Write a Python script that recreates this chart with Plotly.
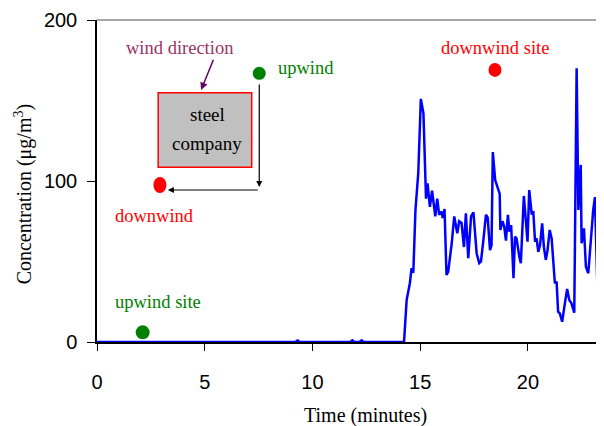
import plotly.graph_objects as go

# ---- data ----
time_min = [0, 9.2, 9.31, 9.42, 11.75, 11.85, 11.95, 12.18, 12.28, 12.38, 14.25,
            14.37, 14.52, 14.6, 14.68, 14.78, 14.91, 15.03, 15.15, 15.27, 15.34,
            15.45, 15.55, 15.6, 15.7, 15.79, 15.88, 16.0, 16.04, 16.13, 16.22,
            16.3, 16.46, 16.58, 16.72, 16.81, 16.92, 17.03, 17.12, 17.23, 17.36,
            17.47, 17.62, 17.74, 17.82, 17.93, 18.05, 18.13, 18.24, 18.31, 18.37,
            18.48, 18.63, 18.69, 18.72, 18.82, 18.9, 18.98, 19.07, 19.14, 19.22,
            19.33, 19.4, 19.47, 19.6, 19.67, 19.81, 19.94, 19.98, 20.06, 20.17,
            20.25, 20.33, 20.4, 20.48, 20.56, 20.66, 20.74, 20.83, 20.91, 21.01,
            21.1, 21.17, 21.25, 21.33, 21.4, 21.48, 21.59, 21.68, 21.82, 21.92,
            22.02, 22.15, 22.26, 22.34, 22.45, 22.49, 22.6, 22.69, 22.8, 23.03,
            23.11, 23.26, 23.37, 23.46, 23.6]
conc = [0, 0, 1, 0, 0, 1, 0, 0, 1, 0, 0,
        26, 36.5, 45.8, 43, 82, 105, 151, 142, 89, 98.5,
        84, 94, 88, 78, 89, 79, 81, 77, 82.6, 41.6,
        43.7, 61, 78, 67.5, 75, 74, 59, 80, 52, 78,
        80.5, 55, 49, 50, 63, 79, 77.4, 57, 60, 118,
        100.6, 94, 92, 69.6, 75, 71.6, 63, 79, 68.5, 72.7,
        39.6, 65.4, 64.4, 53, 49, 90.7, 64.4, 62.3, 94.4, 80,
        80.5, 62.3, 64.4, 56, 60, 73.7, 59, 51, 57, 69.6,
        64.4, 49, 36.5, 37.5, 18.8, 17.8, 12.6, 21, 33, 26,
        24, 18.2, 170, 82, 110, 61.3, 70.6, 46.8, 42.7, 82,
        90, 16, 38.5, 40.6, 38.5]

x_ticks = [0, 5, 10, 15, 20]
y_ticks = [0, 100, 200]

SERIF = "Liberation Serif"
SANS = "Liberation Sans"

fig = go.Figure()
fig.add_trace(go.Scatter(x=time_min, y=conc, mode="lines",
                         line=dict(color="#0000FF", width=2.5),
                         showlegend=False, hoverinfo="skip"))

shapes = [
    # top border of plot area
    dict(type="line", xref="paper", yref="paper", x0=0, x1=1, y0=1, y1=1,
         line=dict(color="#8a8a8a", width=1.5)),
    # steel company box
    dict(type="rect", xref="x", yref="y", x0=2.84, x1=7.18, y0=108.5, y1=154.8,
         fillcolor="#C0C0C0", line=dict(color="#FF0000", width=1.5)),
]

def dot(x, y, color, w, h):
    return dict(type="circle", xref="x", yref="y", xsizemode="pixel", ysizemode="pixel",
                xanchor=x, yanchor=y, x0=-w / 2, x1=w / 2, y0=-h / 2, y1=h / 2,
                fillcolor=color, line=dict(width=0))

shapes += [
    dot(7.53, 166.9, "#008000", 13, 13),
    dot(2.92, 97.5, "#FF0000", 13, 16),
    dot(2.12, 6.0, "#008000", 14, 14),
    dot(18.47, 169, "#FF0000", 13, 14),
]

def txt(x, y, s, color, size=18.5):
    return dict(x=x, y=y, xref="x", yref="y", text=s, showarrow=False,
                font=dict(family=SERIF, size=size, color=color),
                xanchor="center", yanchor="middle")

annotations = [
    txt(3.85, 182.6, "wind direction", "#993366"),
    txt(5.15, 141.0, "steel", "#000000", 19),
    txt(5.10, 123.6, "company", "#000000", 19),
    txt(9.70, 170.2, "upwind", "#008000"),
    txt(2.65, 78.3, "downwind", "#FF0000"),
    txt(2.81, 24.8, "upwind site", "#008000"),
    txt(18.49, 182.4, "downwind site", "#FF0000"),
    # wind direction arrow
    dict(x=4.83, y=156.5, ax=5.43, ay=176.2, xref="x", yref="y", axref="x", ayref="y",
         text="", showarrow=True, arrowhead=2, arrowsize=1, arrowwidth=1.5,
         arrowcolor="#660066"),
    # route arrows
    dict(x=7.53, y=96.3, ax=7.53, ay=160.9, xref="x", yref="y", axref="x", ayref="y",
         text="", showarrow=True, arrowhead=2, arrowsize=1, arrowwidth=1.2,
         arrowcolor="#000000"),
    dict(x=3.29, y=94.4, ax=7.53, ay=94.4, xref="x", yref="y", axref="x", ayref="y",
         text="", showarrow=True, arrowhead=2, arrowsize=1, arrowwidth=1.2,
         arrowcolor="#000000"),
    # axis titles
    dict(x=12.45, y=-0.227, xref="x", yref="paper", text="Time (minutes)",
         showarrow=False, font=dict(family=SERIF, size=20, color="#000000"),
         xanchor="center", yanchor="middle"),
    dict(x=-0.145, y=0.46, xref="paper", yref="paper",
         text="Concentration (\u03bcg/m<sup>3</sup>)", textangle=-90,
         showarrow=False, font=dict(family=SERIF, size=20, color="#000000"),
         xanchor="center", yanchor="middle"),
]

# page has an 8px body margin, so the figure is offset by 8px right and down
fig.update_layout(
    width=596, height=418,
    margin=dict(l=89, r=0, t=12, b=84, pad=0),
    paper_bgcolor="white", plot_bgcolor="white",
    shapes=shapes, annotations=annotations,
    xaxis=dict(range=[0, 23.53], tickvals=x_ticks, ticks="outside", ticklen=7,
               tickcolor="#000000", tickwidth=1, showline=True, linecolor="#000000",
               linewidth=1.5, showgrid=False, zeroline=False,
               tickfont=dict(family=SANS, size=20, color="#000000"),
               ticklabelstandoff=14),
    yaxis=dict(range=[0, 200], tickvals=y_ticks, ticks="outside", ticklen=8,
               tickcolor="#000000", tickwidth=1, showline=True, linecolor="#000000",
               linewidth=1.5, showgrid=False, zeroline=False,
               tickfont=dict(family=SANS, size=20, color="#000000"),
               ticklabelstandoff=6),
)

fig.write_html("out.html")
